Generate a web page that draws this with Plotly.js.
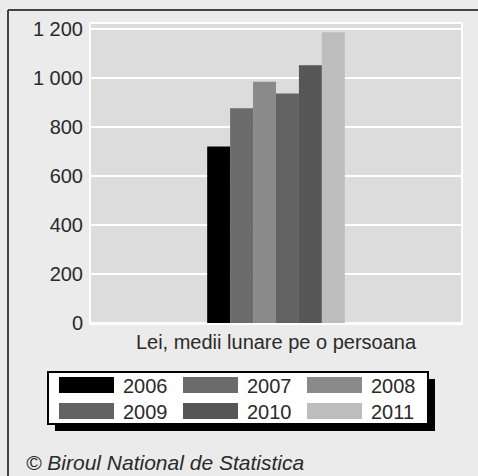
<!DOCTYPE html>
<html>
<head>
<meta charset="utf-8">
<script src="https://cdn.plot.ly/plotly-3.0.1.min.js"></script>
<style>
html,body{margin:0;padding:0;background:#ebebeb;}
#chart{width:478px;height:476px;}
</style>
</head>
<body>
<div id="chart"></div>
<script>
const category = ["Lei, medii lunare pe o persoana"];
const years = ["2006", "2007", "2008", "2009", "2010", "2011"];
const values = [720, 876, 984, 936, 1052, 1186];
const colors = ["#000000", "#6b6b6b", "#8a8a8a", "#636363", "#565656", "#bdbdbd"];
const yTickVals = [0, 200, 400, 600, 800, 1000, 1200];
const yTickText = ["0", "200", "400", "600", "800", "1 000", "1 200"];
const footer = "© Biroul National de Statistica";

const W = 478, H = 476, ML = 91, MR = 17, MT = 24, MB = 153;
const PW = W - ML - MR, PH = H - MT - MB;
const fx = px => (px - ML) / PW;
const fy = py => (H - MB - py) / PH;

const traces = years.map((y, i) => ({
  type: "bar",
  name: y,
  x: category,
  y: [values[i]],
  marker: {color: colors[i], line: {width: 0}},
  hoverinfo: "skip"
}));

const shapes = [];
const annotations = [];
// outer frame (top and left)
shapes.push({type: "line", xref: "paper", yref: "paper", x0: fx(8), x1: fx(W + 2), y0: fy(10), y1: fy(10), line: {color: "#444444", width: 2}});
shapes.push({type: "line", xref: "paper", yref: "paper", x0: fx(8), x1: fx(8), y0: fy(10), y1: fy(H + 2), line: {color: "#444444", width: 2}});
// legend shadow and box
shapes.push({type: "rect", xref: "paper", yref: "paper", x0: fx(55), x1: fx(435), y0: fy(379), y1: fy(431), fillcolor: "#000000", line: {width: 0}});
shapes.push({type: "rect", xref: "paper", yref: "paper", x0: fx(48), x1: fx(428), y0: fy(372), y1: fy(424), fillcolor: "#ffffff", line: {color: "#000000", width: 2}});
const colX = [59, 183, 307];
const rowY = [377, 403];
years.forEach((y, i) => {
  const c = i % 3, r = Math.floor(i / 3);
  shapes.push({type: "rect", xref: "paper", yref: "paper", x0: fx(colX[c]), x1: fx(colX[c] + 55), y0: fy(rowY[r]), y1: fy(rowY[r] + 16), fillcolor: colors[i], line: {width: 0}});
  annotations.push({xref: "paper", yref: "paper", x: fx(colX[c] + 62), y: fy(rowY[r] + 8.5), xanchor: "left", yanchor: "middle", showarrow: false, text: y, font: {family: "Liberation Sans, Arial, sans-serif", size: 20, color: "#2a2a2a"}});
});
annotations.push({xref: "paper", yref: "paper", x: fx(24), y: fy(462), xanchor: "left", yanchor: "middle", showarrow: false, text: "<i>" + footer + "</i>", font: {family: "Liberation Sans, Arial, sans-serif", size: 21, color: "#2a2a2a"}});

const layout = {
  width: W, height: H,
  margin: {l: ML, r: MR, t: MT, b: MB, pad: 0},
  paper_bgcolor: "#ebebeb",
  plot_bgcolor: "#dcdcdc",
  showlegend: false,
  barmode: "group",
  bargap: 0.628,
  bargroupgap: 0,
  font: {family: "Liberation Sans, Arial, sans-serif", size: 20, color: "#2a2a2a"},
  xaxis: {
    type: "category",
    range: [-0.5, 0.5],
    showgrid: false,
    showline: true, mirror: true, linecolor: "#ffffff", linewidth: 2,
    ticks: "", ticklabelstandoff: 0,
    tickfont: {size: 20, color: "#2a2a2a"},
    fixedrange: true
  },
  yaxis: {
    range: [0, 1220],
    tickvals: yTickVals, ticktext: yTickText,
    showgrid: true, gridcolor: "#ffffff", gridwidth: 2,
    zeroline: true, zerolinecolor: "#ffffff", zerolinewidth: 2,
    showline: true, mirror: true, linecolor: "#ffffff", linewidth: 2,
    ticks: "", ticklabelstandoff: 2,
    tickfont: {size: 20, color: "#2a2a2a"},
    fixedrange: true
  },
  shapes: shapes,
  annotations: annotations,
  hovermode: false
};

Plotly.newPlot("chart", traces, layout, {displayModeBar: false, staticPlot: true});
</script>
</body>
</html>
